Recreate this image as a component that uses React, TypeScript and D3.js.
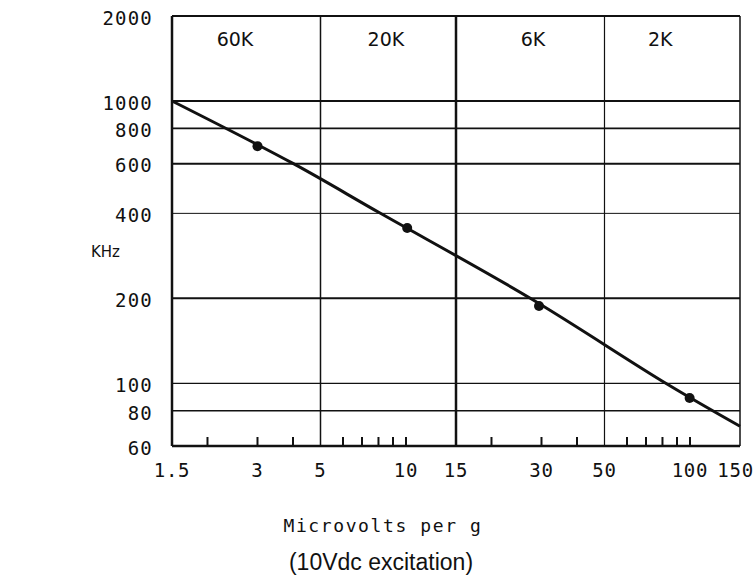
import React from "react";
import * as d3 from "d3";

// curve (microvolts per g vs KHz)
const lineSens = [1.5, 4.0, 8.1, 27.3, 83, 150];
const lineFreq = [1000, 601, 401, 200.6, 99.5, 70.5];

// the four marked points
const pointSens = [3.0, 10.1, 29.4, 99.7];
const pointFreq = [692, 355, 188, 88.7];

// range labels across the top band
const rangeLabels = ["60K", "20K", "6K", "2K"];
const rangeAt = [2.5, 8.5, 28, 78.6];

const xTickLabels = [1.5, 3, 5, 10, 15, 30, 50, 100, 150];
const xMinorTicks = [2, 3, 4, 6, 7, 8, 9, 10, 20, 30, 40, 60, 70, 80, 90, 100];
const xGrid = [5, 15, 50];
const xGridWidth = [1.5, 2.5, 1.2];

const yTickLabels = [2000, 1000, 800, 600, 400, 200, 100, 80, 60];
const yGrid = [1000, 800, 600, 400, 200, 100, 80];
const yGridWidth = [2, 1.6, 2, 1, 2, 1.4, 1.4];

const W = 754;
const H = 575;
const margin = { top: 16, left: 172, right: 14, bottom: 129 };

const ink = "#111";
const mono = "'DejaVu Sans Mono', 'Liberation Mono', monospace";

export default function App() {
  const x = d3
    .scaleLog()
    .domain([1.5, 150])
    .range([margin.left, W - margin.right]);
  const y = d3
    .scaleLog()
    .domain([60, 2000])
    .range([H - margin.bottom, margin.top]);

  const x0 = x.range()[0];
  const x1 = x.range()[1];
  const yTop = y.range()[1];
  const yBot = y.range()[0];

  const curve = d3
    .line<number>()
    .x((d, i) => x(lineSens[i]))
    .y(d => y(d))
    .curve(d3.curveCatmullRom.alpha(0.5));

  return (
    <svg
      width={W}
      height={H}
      style={{ position: "absolute", left: 0, top: 0, background: "#fff" }}
    >
      {/* horizontal grid */}
      {yGrid.map((v, i) => (
        <line
          key={"hy" + v}
          x1={x0}
          x2={x1}
          y1={y(v)}
          y2={y(v)}
          stroke={ink}
          strokeWidth={yGridWidth[i]}
        />
      ))}
      {/* vertical grid */}
      {xGrid.map((v, i) => (
        <line
          key={"vx" + v}
          x1={x(v)}
          x2={x(v)}
          y1={yTop}
          y2={yBot}
          stroke={ink}
          strokeWidth={xGridWidth[i]}
        />
      ))}

      {/* frame */}
      <line x1={x0} x2={x1} y1={yTop} y2={yTop} stroke={ink} strokeWidth={2} />
      <line x1={x0} x2={x1} y1={yBot} y2={yBot} stroke={ink} strokeWidth={2.5} />
      <line x1={x0} x2={x0} y1={yTop} y2={yBot} stroke={ink} strokeWidth={2.5} />
      <line x1={x1} x2={x1} y1={yTop} y2={yBot} stroke={ink} strokeWidth={1.5} />

      {/* minor ticks on the bottom axis */}
      {xMinorTicks.map(v => (
        <line
          key={"t" + v}
          x1={x(v)}
          x2={x(v)}
          y1={yBot}
          y2={yBot - 9}
          stroke={ink}
          strokeWidth={2}
        />
      ))}

      {/* range labels */}
      {rangeLabels.map((s, i) => (
        <text
          key={s}
          x={x(rangeAt[i])}
          y={46}
          textAnchor="middle"
          fontFamily="'DejaVu Sans', sans-serif"
          fontSize={19}
          fill={ink}
        >
          {s}
        </text>
      ))}

      {/* y tick labels */}
      {yTickLabels.map(v => (
        <text
          key={"yl" + v}
          x={153}
          y={y(v) + 2}
          dy="0.36em"
          textAnchor="end"
          fontFamily={mono}
          fontSize={19}
          letterSpacing={1.2}
          fill={ink}
        >
          {v}
        </text>
      ))}

      {/* x tick labels */}
      {xTickLabels.map(v => (
        <text
          key={"xl" + v}
          x={v === 150 ? x(v) + 14 : x(v)}
          y={477}
          textAnchor={v === 150 ? "end" : "middle"}
          fontFamily={mono}
          fontSize={19}
          letterSpacing={0.8}
          fill={ink}
        >
          {v}
        </text>
      ))}

      {/* the curve */}
      <path
        d={curve(lineFreq) || ""}
        fill="none"
        stroke={ink}
        strokeWidth={3}
        strokeLinejoin="round"
      />
      {pointSens.map((v, i) => (
        <circle key={"p" + v} cx={x(v)} cy={y(pointFreq[i])} r={5} fill={ink} />
      ))}

      {/* axis titles */}
      <text
        x={91}
        y={257}
        fontFamily="'DejaVu Sans', sans-serif"
        fontSize={15}
        fill={ink}
      >
        KHz
      </text>
      <text
        x={383}
        y={532}
        textAnchor="middle"
        fontFamily={mono}
        fontSize={18}
        letterSpacing={1.6}
        fill={ink}
      >
        Microvolts per g
      </text>
      <text
        x={381}
        y={570}
        textAnchor="middle"
        fontFamily="'Liberation Sans', Arial, sans-serif"
        fontSize={23}
        fill={ink}
      >
        (10Vdc excitation)
      </text>
    </svg>
  );
}
